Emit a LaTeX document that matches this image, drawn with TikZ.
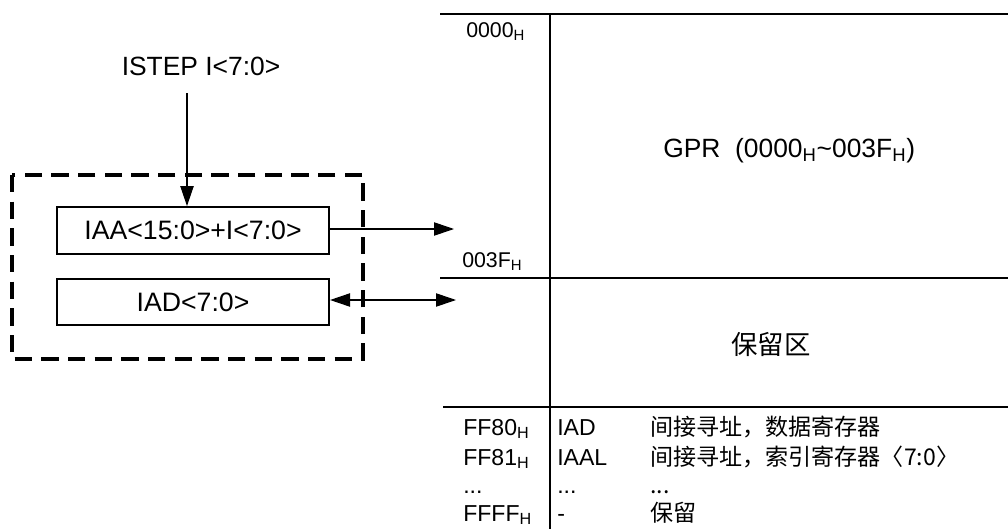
\documentclass[tikz,border=0pt]{standalone}
\usepackage{fontspec}
\setmainfont{Liberation Sans}
\newfontfamily\cjk{Noto Sans CJK SC}
\usepackage{tikz}
\usetikzlibrary{arrows.meta,positioning}
\newcommand{\hx}{\textsubscript{H}}
\newcommand{\etc}{...}

\begin{document}
\begin{tikzpicture}[x=0.75pt,y=-0.75pt,
    reg/.style={draw,line width=1.6pt,minimum width=204pt,minimum height=35pt,inner sep=0pt,font=\fontsize{20}{22}\selectfont},
    arr/.style={-{Triangle[length=15pt,width=10pt]},line width=0.8pt},
    mem/.style={line width=1.1pt},
    big/.style={font=\fontsize{19.8}{22}\selectfont},
    addr/.style={anchor=base west,font=\fontsize{16}{18}\selectfont},
    tab/.style={anchor=base west,inner sep=0pt,font=\fontsize{17.3}{19}\selectfont}]
        \useasboundingbox (0,0) rectangle (1008,529);

        % Index unit
        \node[big,anchor=base] (istep) at (201,75) {ISTEP I<7:0>};
        \draw[line width=2.5pt,dash pattern=on 13pt off 7pt] (12,175) rectangle (363,359);
        \node[reg] (iaa) at (193,230.5) {IAA<15:0>+I<7:0>};
        \node[reg] (iad) at (193,302) {IAD<7:0>};
        \coordinate (stepin) at (187,93);
        \draw[arr] (stepin) -- (stepin |- iaa.north);

        % Links to memory
        \coordinate (gprin) at (454,229);
        \coordinate (datain) at (456,300);
        \draw[arr] (iaa.east |- gprin) -- (gprin);
        \draw[arr,{Triangle[length=15pt,width=10pt]}-{Triangle[length=15pt,width=10pt]}] (iad.east |- datain) -- (datain);

        % Memory map
        \draw[mem] (440,14) -- (1008,14);
        \draw[mem] (440,278) -- (1008,278);
        \draw[mem] (443,407) -- (1008,407);
        \draw[mem] (550,14) -- (550,529);
        \node[addr,inner sep=0pt] (lo) at (466,37) {0000\hx};
        \node[addr,inner sep=0pt] (hi) at (462,267) {003F\hx};
        \node[big,anchor=base west,inner sep=0pt] (gpr) at (663,157) {GPR~~(0000\hx\textasciitilde003F\hx)};
        \node[big,anchor=base,inner sep=0pt] (rsv) at (771,354) {\cjk 保留区};

        % Register table
        \foreach \y/\ad/\nm/\ds [count=\i] in {435/FF80\hx/IAD/间接寻址，数据寄存器,
            465/FF81\hx/IAAL/间接寻址，索引寄存器〈7:0〉, 493/\etc/\etc/\etc, 521/FFFF\hx/-/保留} {
            \node[tab] (ad\i) at (463,\y) {\ad};
            \node[tab] (nm\i) at (557,\y) {\nm};
            \node[tab] (ds\i) at (650,\y) {\cjk \ds};
        }
\end{tikzpicture}
\end{document}
